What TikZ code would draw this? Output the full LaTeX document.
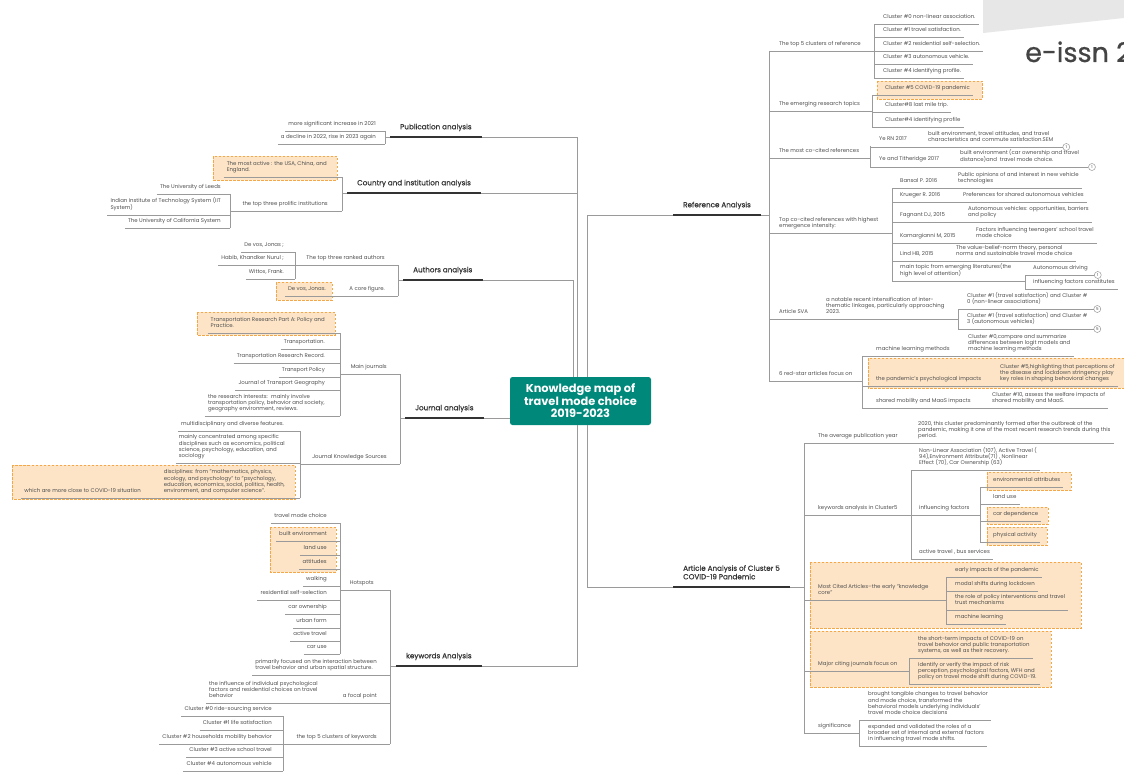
\documentclass[tikz,border=0pt]{standalone}
\usepackage{fontspec}
\setmainfont{Poppins}
\newfontfamily\topicfont{Poppins}[FakeBold=0.6]
\definecolor{ink}{HTML}{505050}
\definecolor{wirec}{HTML}{9A9A9A}
\definecolor{bar}{HTML}{333333}
\definecolor{rootgreen}{HTML}{00897B}
\definecolor{hlfill}{HTML}{FDE4C6}
\definecolor{hlline}{HTML}{F5A647}
\definecolor{wmgray}{HTML}{E7E7E7}
\definecolor{wmtext}{HTML}{444444}

\begin{document}
\begin{tikzpicture}[x=1pt, y=-1pt,
    wire/.style={draw=wirec, line width=0.7pt},
    heavy/.style={draw=bar, line width=2.4pt},
    hl/.style={fill=hlfill, draw=hlline, line width=0.8pt, dash pattern=on 2.5pt off 1.5pt},
    lf/.style={font=\fontsize{5.4}{6.4}\selectfont, text=ink, inner xsep=3pt, inner ysep=3pt, align=left, execute at end node=\strut},
    rn/.style={lf, anchor=south west},
    ln/.style={lf, anchor=south east},
    topic/.style={font=\topicfont\fontsize{7.2}{8.5}\selectfont, text=bar, inner xsep=10pt, inner ysep=5pt, align=left, anchor=south west, execute at end node=\strut},
    root/.style={fill=rootgreen, rounded corners=2.5pt, text=white, font=\bfseries\fontsize{11.4}{12.5}\selectfont, align=center, minimum width=141pt, minimum height=48pt},
    knot/.style={circle, draw=wirec, line width=0.5pt, fill=white, inner sep=0pt, minimum size=7pt, font=\fontsize{4}{4}\selectfont, text=ink}]

    \clip (0,0) rectangle (1124,773);
    \fill[white] (0,0) rectangle (1124,773);

    % stamp in the corner
    \fill[wmgray] (983,0) -- (1124,0) -- (1124,18) -- (983,33) -- cycle;
    \node[font=\topicfont\fontsize{27}{30}\selectfont, text=wmtext, anchor=base west, inner sep=0pt] (stamp) at (1025,62) {e-issn 2};

    % highlighted boxes
    \foreach \xa/\ya/\xb/\yb in {877/81/982/99, 868/358/1130/388, 987/472/1071/490, 987/507/1048/524, 987/527/1047/545, 810/562/1081/628, 810/631/1051/687, 213/156/337/180, 276/282/332/300, 197/312/335/335, 12/465/295/499, 270/527/336/572}
        \draw[hl] (\xa,\ya) rectangle (\xb,\yb);

    % centre and main topics
    \node[root] (root) at (580.5,401) {Knowledge map of\\travel mode choice\\2019-2023};
    \node[topic] (pub) at (390,137) {Publication analysis};
    \node[topic] (cty) at (347,193) {Country and institution analysis};
    \node[topic] (aut) at (403,280) {Authors analysis};
    \node[topic] (jou) at (405,418) {Journal analysis};
    \node[topic] (kwd) at (396,666) {keywords Analysis};
    \node[topic] (ref) at (673,215) {Reference Analysis};
    \node[topic] (art) at (673,587) {Article Analysis of Cluster 5\\COVID-19 Pandemic};
    \foreach \n in {pub,cty,aut,jou,kwd,ref,art} { \draw[heavy] (\n.south west) -- (\n.south east); }

    \coordinate (tl) at (577,0);
    \coordinate (ta) at (573,0);
    \coordinate (tr) at (587,0);
    \draw[wire] (pub.south east) -| (root.north -| tl);
    \draw[wire] (cty.south east) -- (tl |- cty.south);
    \draw[wire] (kwd.south east) -| (root.south -| tl);
    \draw[wire] (aut.south east) -| (root.north -| ta);
    \draw[wire] (jou.south east) -- (jou.south east -| root.west);
    \draw[wire] (ref.south west) -| (root.north -| tr);
    \draw[wire] (art.south west) -| (root.south -| tr);

    % ---- Reference Analysis ----
    \coordinate (j0) at (769,0);
    \coordinate (jc) at (874,0);
    \coordinate (je) at (872,0);
    \coordinate (jm) at (870,0);
    \coordinate (jt) at (892,0);
    \coordinate (ja) at (1025,0);
    \coordinate (js) at (958,0);
    \coordinate (jd) at (862,0);
    \node[rn] (r1) at (776,51) {The top 5 clusters of reference};
    \node[rn] (r2) at (776,111) {The emerging research topics};
    \node[rn] (r3) at (776,158) {The most co-cited references};
    \node[rn] (r4) at (776,233) {Top co-cited references with highest\\emergence intensity:};
    \node[rn] (r5) at (776,319) {Article SVA};
    \node[rn] (r6) at (776,381) {6 red-star articles focus on};
    \draw[wire] (ref.south east) -- (j0 |- ref.south);
    \draw[wire] (j0 |- r1.south) -- (j0 |- r6.south);
    \draw[wire] (j0 |- r1.south) -- (jc |- r1.south);
    \draw[wire] (j0 |- r2.south) -- (je |- r2.south);
    \draw[wire] (j0 |- r3.south) -- (jm |- r3.south);
    \draw[wire] (j0 |- r4.south) -- (jt |- r4.south);
    \draw[wire] (j0 |- r5.south) -- (js |- r5.south);
    \draw[wire] (j0 |- r6.south) -- (jd |- r6.south);

    \foreach \y/\txt [count=\i from 0] in {24/{Cluster \#0 non-linear association.}, 37/{Cluster \#1 travel satisfaction.}, 51/{Cluster \#2 residential self-selection.}, 64/{Cluster \#3 autonomous vehicle.}, 78/{Cluster \#4 identifying profile.}}
        \node[rn] (c\i) at (880,\y) {\txt};
    \draw[wire] (jc |- c0.south) -- (jc |- c4.south);
    \foreach \i in {0,...,4} { \draw[wire] (jc |- c\i.south) -- (c\i.south east); }

    \foreach \y/\txt [count=\i from 0] in {95/{Cluster \#5 COVID-19 pandemic}, 112/{Cluster\#8 last mile trip.}, 127/{Cluster\#4 identifying profile}}
        \node[rn] (e\i) at (882,\y) {\txt};
    \draw[wire] (je |- e0.south) -- (je |- e2.south);
    \foreach \i in {0,1,2} { \draw[wire] (je |- e\i.south) -- (e\i.south east); }

    \node[rn] (m0) at (876,146) {Ye RN 2017};
    \node[rn] (mm0) at (925,147) {built environment, travel attitudes, and travel\\characteristics and commute satisfaction.SEM};
    \node[rn] (m1) at (876,166) {Ye and Titheridge 2017};
    \node[rn] (mm1) at (957,167) {built environment (car ownership and travel\\distance)and~ travel mode choice.};
    \node[knot, anchor=west] (kn1) at ([xshift=6pt]mm0.south east) {1};
    \node[knot, anchor=west] (kn2) at ([xshift=6pt]mm1.south east) {1};
    \draw[wire] (jm |- m0.south) -- (jm |- mm1.south);
    \draw[wire] (jm |- mm0.south) -- (kn1.west);
    \draw[wire] (jm |- mm1.south) -- (kn2.west);

    \foreach \y/\lab/\xb/\note [count=\i from 0] in {
        188/{Bansal P. 2016}/955/{Public opinions of and interest in new vehicle\\technologies},
        202/{Krueger R. 2016}/960/{Preferences for shared autonomous vehicles},
        222/{Fagnant DJ, 2015}/965/{Autonomous vehicles: opportunities, barriers\\and policy},
        243/{Kamargianni M, 2015}/973/{Factors influencing teenagers' school travel\\mode choice},
        261/{Lind HB, 2015}/953/{The value-belief-norm theory, personal\\norms and sustainable travel mode choice}} {
        \node[rn] (t\i) at (897,\y) {\lab};
        \node[rn] (tt\i) at (\xb,\y) {\note};
    }
    \node[rn] (t5) at (897,281) {main topic from emerging literatures(the\\high level of attention)};
    \draw[wire] (jt |- tt0.south) -- (jt |- t5.south);
    \foreach \i in {0,...,4} { \draw[wire] (jt |- tt\i.south) -- (tt\i.south east); }
    \draw[wire] (jt |- t5.south) -- (ja |- t5.south);
    \node[rn] (a0) at (1030,275) {Autonomous driving};
    \node[rn] (a1) at (1030,289) {influencing factors constitutes};
    \node[knot, anchor=west] (kn3) at ([xshift=3pt]a0.south east) {1};
    \draw[wire] (ja |- a0.south) -- (ja |- a1.south);
    \draw[wire] (ja |- a0.south) -- (kn3.west);
    \draw[wire] (ja |- a1.south) -- (a1.south east);

    \node[rn] (s0) at (823,319) {a notable recent intensification of inter-\\thematic linkages, particularly approaching\\2023.};
    \node[rn] (s1) at (964,309) {Cluster \#1 (travel satisfaction) and Cluster \#\\0 (non-linear associations)};
    \node[rn] (s2) at (964,329) {Cluster \#1 (travel satisfaction) and Cluster \#\\3 (autonomous vehicles)};
    \node[knot, anchor=west] (kn4) at ([xshift=3pt]s1.south east) {5};
    \node[knot, anchor=west] (kn5) at ([xshift=3pt]s2.south east) {5};
    \draw[wire] (js |- s1.south) -- (js |- s2.south);
    \draw[wire] (js |- s1.south) -- (kn4.west);
    \draw[wire] (js |- s2.south) -- (kn5.west);

    \foreach \y/\lab/\xb/\note [count=\i from 0] in {
        356/{machine learning methods}/965/{Cluster \#0,compare and summarize\\differences between logit models and\\machine learning methods},
        386/{the pandemic's psychological impacts}/997/{Cluster \#5,highlighting that perceptions of\\the disease and lockdown stringency play\\key roles in shaping behavioral changes},
        408/{shared mobility and MaaS impacts}/989/{Cluster \#10, assess the welfare impacts of\\shared mobility and MaaS.}} {
        \node[rn] (d\i) at (873,\y) {\lab};
        \node[rn] (dd\i) at (\xb,\y) {\note};
    }
    \draw[wire] (jd |- d0.south) -- (jd |- d2.south);
    \foreach \i in {0,1,2} { \draw[wire] (jd |- dd\i.south) -- (dd\i.south east); }

    % ---- Article Analysis of Cluster 5 ----
    \coordinate (jv) at (804,0);
    \coordinate (jk) at (911,0);
    \coordinate (jf) at (980,0);
    \coordinate (jg) at (946,0);
    \coordinate (jh) at (909,0);
    \coordinate (ji) at (859,0);
    \node[rn] (v0) at (815,443) {The average publication year};
    \node[rn] (vv0) at (915,443) {2020, this cluster predominantly formed after the outbreak of the\\pandemic, making it one of the most recent research trends during this\\period.};
    \node[rn] (v1) at (815,515) {keywords analysis in Cluster5};
    \node[rn] (v2) at (815,600) {Most Cited Articles--the early "knowledge\\core"};
    \node[rn] (v3) at (815,671) {Major citing journals focus on};
    \node[rn] (v4) at (815,733) {significance};
    \draw[wire] (art.south east) -- (jv |- art.south);
    \draw[wire] (jv |- v0.south) -- (jv |- v4.south);
    \draw[wire] (jv |- v0.south) -- (vv0.south east);
    \draw[wire] (jv |- v1.south) -- (jk |- v1.south);
    \draw[wire] (jv |- v2.south) -- (jg |- v2.south);
    \draw[wire] (jv |- v3.south) -- (jh |- v3.south);
    \draw[wire] (jv |- v4.south) -- (ji |- v4.south);

    \node[rn] (k0) at (916,470) {Non-Linear Association (107), Active Travel (\\94),Environment Attribute(71) , Nonlinear\\Effect (70), Car Ownership (63)};
    \node[rn] (k1) at (916,515) {influencing factors};
    \node[rn] (k2) at (916,559) {active travel , bus services};
    \draw[wire] (jk |- k0.south) -- (jk |- k2.south);
    \draw[wire] (jk |- k0.south) -- (k0.south east);
    \draw[wire] (jk |- k1.south) -- (jf |- k1.south);
    \draw[wire] (jk |- k2.south) -- (k2.south east);
    \foreach \y/\txt [count=\i from 0] in {487/{environmental attributes}, 504/{land use}, 521/{car dependence}, 542/{physical activity}}
        \node[rn] (f\i) at (990,\y) {\txt};
    \draw[wire] (jf |- f0.south) -- (jf |- f3.south);
    \foreach \i in {0,...,3} { \draw[wire] (jf |- f\i.south) -- (f\i.south east); }

    \foreach \y/\txt [count=\i from 0] in {577/{early impacts of the pandemic}, 591/{modal shifts during lockdown}, 610/{the role of policy interventions and travel\\trust mechanisms}, 624/{machine learning}}
        \node[rn] (g\i) at (952,\y) {\txt};
    \draw[wire] (jg |- g0.south) -- (jg |- g3.south);
    \foreach \i in {0,...,3} { \draw[wire] (jg |- g\i.south) -- (g\i.south east); }

    \node[rn] (h0) at (915,658) {the short-term impacts of COVID-19 on\\travel behavior and public transportation\\systems, as well as their recovery.};
    \node[rn] (h1) at (915,684) {Identify or verify the impact of risk\\perception, psychological factors, WFH and\\policy on travel mode shift during COVID-19.};
    \draw[wire] (jh |- h0.south) -- (jh |- h1.south);
    \foreach \i in {0,1} { \draw[wire] (jh |- h\i.south) -- (h\i.south east); }

    \node[rn] (i0) at (865,720) {brought tangible changes to travel behavior\\and mode choice, transformed the\\behavioral models underlying individuals'\\travel mode choice decisions};
    \node[rn] (i1) at (865,746) {expanded and validated the roles of a\\broader set of internal and external factors\\in influencing travel mode shifts.};
    \draw[wire] (ji |- i0.south) -- (ji |- i1.south);
    \foreach \i in {0,1} { \draw[wire] (ji |- i\i.south) -- (i\i.south east); }

    % ---- Publication analysis ----
    \coordinate (jp) at (385,0);
    \node[ln] (p0) at (379,131) {more significant increase in 2021};
    \node[ln] (p1) at (379,144) {a decline in 2022, rise in 2023 again};
    \draw[wire] (pub.south west) -- (jp |- pub.south);
    \draw[wire] (jp |- p0.south) -- (jp |- p1.south);
    \foreach \i in {0,1} { \draw[wire] (p\i.south west) -- (jp |- p\i.south); }

    % ---- Country and institution analysis ----
    \coordinate (jq) at (342,0);
    \coordinate (ju) at (230,0);
    \node[ln] (q0) at (330,177) {The most active : the USA, China, and\\England.};
    \node[ln] (q1) at (331,211) {the top three prolific institutions};
    \draw[wire] (cty.south west) -- (jq |- cty.south);
    \draw[wire] (jq |- q0.south) -- (jq |- q1.south);
    \draw[wire] (q0.south west) -- (jq |- q0.south);
    \draw[wire] (ju |- q1.south) -- (jq |- q1.south);
    \foreach \y/\txt [count=\i from 0] in {194/{The University of Leeds}, 215/{Indian Institute of Technology System (IIT\\System)}, 228/{The University of California System}}
        \node[ln] (u\i) at (224,\y) {\txt};
    \draw[wire] (ju |- u0.south) -- (ju |- u2.south);
    \foreach \i in {0,1,2} { \draw[wire] (u\i.south west) -- (ju |- u\i.south); }

    % ---- Authors analysis ----
    \coordinate (jw) at (398,0);
    \coordinate (jx) at (295,0);
    \node[ln] (w0) at (388,265) {The top three ranked authors};
    \node[ln] (w1) at (388,296) {A core figure.};
    \node[ln] (wc) at (329,296) {De vos, Jonas.};
    \draw[wire] (aut.south west) -- (jw |- aut.south);
    \draw[wire] (jw |- w0.south) -- (jw |- w1.south);
    \draw[wire] (jx |- w0.south) -- (jw |- w0.south);
    \draw[wire] (wc.south west) -- (jw |- w1.south);
    \foreach \y/\txt [count=\i from 0] in {252/{De vos, Jonas ;}, 265/{Habib, Khandker Nurul ;}, 279/{Wittox, Frank.}}
        \node[ln] (x\i) at (287,\y) {\txt};
    \draw[wire] (jx |- x0.south) -- (jx |- x2.south);
    \foreach \i in {0,1,2} { \draw[wire] (x\i.south west) -- (jx |- x\i.south); }

    % ---- Journal analysis ----
    \coordinate (jy) at (400,0);
    \coordinate (jz) at (340,0);
    \coordinate (jo) at (300,0);
    \node[ln] (y0) at (390,374) {Main journals};
    \node[ln] (y1) at (390,464) {Journal Knowledge Sources};
    \draw[wire] (jou.south west) -- (jy |- jou.south);
    \draw[wire] (jy |- y0.south) -- (jy |- y1.south);
    \draw[wire] (jz |- y0.south) -- (jy |- y0.south);
    \draw[wire] (jo |- y1.south) -- (jy |- y1.south);
    \foreach \y/\txt [count=\i from 0] in {333/{Transportation Research Part A: Policy and\\Practice.}, 349/{Transportation.}, 363/{Transportation Research Record.}, 377/{Transport Policy}, 390/{Journal of Transport Geography}, 416/{the research interests:~ mainly involve\\transportation policy, behavior and society,\\geography environment, reviews.}}
        \node[ln] (z\i) at (328,\y) {\txt};
    \draw[wire] (jz |- z0.south) -- (jz |- z5.south);
    \foreach \i in {0,...,5} { \draw[wire] (z\i.south west) -- (jz |- z\i.south); }

    \node[ln] (o0) at (287,431) {multidisciplinary and diverse features.};
    \node[ln] (o1) at (288,463) {mainly concentrated among specific\\disciplines such as economics, political\\science, psychology, education, and\\sociology};
    \node[ln] (o2) at (288,498) {disciplines: from "mathematics, physics,\\ecology, and psychology" to "psychology,\\education, economics, social, politics, health,\\environment, and computer science".};
    \node[ln] (o3) at (144,498) {which are more close to COVID-19 situation};
    \draw[wire] (jo |- o0.south) -- (jo |- o2.south);
    \draw[wire] (o0.south west) -- (jo |- o0.south);
    \draw[wire] (o1.south west) -- (jo |- o1.south);
    \draw[wire] (o3.south west) -- (jo |- o2.south);

    % ---- keywords Analysis ----
    \coordinate (jn) at (390,0);
    \coordinate (jhs) at (340,0);
    \coordinate (jcl) at (283,0);
    \node[ln] (n0) at (377,590) {Hotspots};
    \node[ln] (n1) at (380,675) {primarily focused on the interaction between\\travel behavior and urban spatial structure.};
    \node[ln] (n2) at (380,703) {a focal point};
    \node[rn] (nc) at (206,703) {the influence of individual psychological\\factors and residential choices on travel\\behavior};
    \node[ln] (n3) at (380,744) {the top 5 clusters of keywords};
    \draw[wire] (kwd.south west) -- (jn |- kwd.south);
    \draw[wire] (jn |- n0.south) -- (jn |- n3.south);
    \draw[wire] (jhs |- n0.south) -- (jn |- n0.south);
    \draw[wire] (n1.south west) -- (jn |- n1.south);
    \draw[wire] (nc.south west) -- (jn |- n2.south);
    \draw[wire] (jcl |- n3.south) -- (jn |- n3.south);
    \foreach \y/\txt [count=\i from 0] in {523/{travel mode choice}, 541/{built environment}, 555/{land use}, 569/{attitudes}, 586/{walking}, 600/{residential self-selection}, 614/{car ownership}, 628/{urban form}, 641/{active travel}, 654/{car use}}
        \node[ln] (hs\i) at (330,\y) {\txt};
    \draw[wire] (jhs |- hs0.south) -- (jhs |- hs9.south);
    \foreach \i in {0,...,9} { \draw[wire] (hs\i.south west) -- (jhs |- hs\i.south); }
    \foreach \y/\txt [count=\i from 0] in {716/{Cluster \#0 ride-sourcing service}, 730/{Cluster \#1 life satisfaction}, 744/{Cluster \#2 households mobility behavior}, 757/{Cluster \#3 active school travel}, 771/{Cluster \#4 autonomous vehicle}}
        \node[ln] (cl\i) at (275,\y) {\txt};
    \draw[wire] (jcl |- cl0.south) -- (jcl |- cl4.south);
    \foreach \i in {0,...,4} { \draw[wire] (cl\i.south west) -- (jcl |- cl\i.south); }
\end{tikzpicture}
\end{document}
